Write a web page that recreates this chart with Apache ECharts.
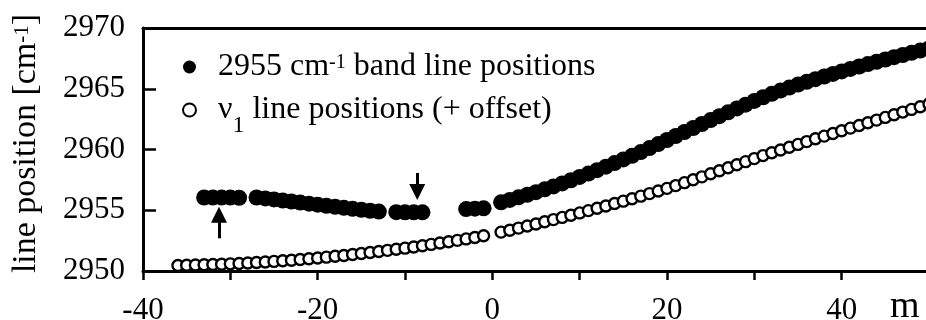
<!DOCTYPE html>
<html>
<head>
<meta charset="utf-8">
<script src="https://cdn.jsdelivr.net/npm/echarts@6/dist/echarts.min.js"></script>
<style>
  html, body { margin: 0; padding: 0; background: #fff; }
  #chart { width: 926px; height: 320px; }
</style>
</head>
<body>
<div id="chart"></div>
<script>
// Rotational index m of each line and its measured position (cm-1)
const bandM = [
  -33, -32, -31, -30, -29,
  -27, -26, -25, -24, -23, -22, -21, -20, -19, -18, -17, -16, -15, -14, -13,
  -11, -10, -9, -8,
  -3, -2, -1,
  1, 2, 3, 4, 5, 6, 7, 8, 9, 10, 11, 12, 13, 14, 15, 16, 17, 18, 19, 20,
  21, 22, 23, 24, 25, 26, 27, 28, 29, 30, 31, 32, 33, 34, 35, 36, 37, 38, 39, 40,
  41, 42, 43, 44, 45, 46, 47, 48, 49, 50
];
const bandPos = [
  2956.05, 2956.05, 2956.04, 2956.04, 2956.03,
  2956.05, 2955.97, 2955.89, 2955.80, 2955.72, 2955.63, 2955.54, 2955.46, 2955.37, 2955.29,
  2955.20, 2955.12, 2955.04, 2954.96, 2954.89,
  2954.84, 2954.83, 2954.83, 2954.83,
  2955.10, 2955.13, 2955.16,
  2955.65, 2955.85, 2956.06, 2956.27, 2956.49, 2956.72, 2956.96, 2957.21, 2957.47, 2957.74,
  2958.02, 2958.30, 2958.59, 2958.88, 2959.18, 2959.48, 2959.79, 2960.12, 2960.45, 2960.78,
  2961.11, 2961.44, 2961.77, 2962.10, 2962.42, 2962.74, 2963.06, 2963.38, 2963.69, 2964.00,
  2964.30, 2964.58, 2964.85, 2965.10, 2965.34, 2965.57, 2965.79, 2966.01, 2966.22, 2966.43,
  2966.63, 2966.83, 2967.03, 2967.22, 2967.41, 2967.60, 2967.78, 2967.96, 2968.14, 2968.32
];

const nuM = [
  -36, -35, -34, -33, -32, -31, -30, -29, -28, -27, -26, -25, -24, -23, -22, -21,
  -20, -19, -18, -17, -16, -15, -14, -13, -12, -11, -10, -9, -8, -7, -6, -5, -4, -3, -2, -1,
  1, 2, 3, 4, 5, 6, 7, 8, 9, 10, 11, 12, 13, 14, 15, 16, 17, 18, 19, 20,
  21, 22, 23, 24, 25, 26, 27, 28, 29, 30, 31, 32, 33, 34, 35, 36, 37, 38, 39, 40,
  41, 42, 43, 44, 45, 46, 47, 48, 49, 50
];
const nuPos = [
  2950.45, 2950.47, 2950.49, 2950.51, 2950.53, 2950.56, 2950.59, 2950.62, 2950.66, 2950.70,
  2950.74, 2950.79, 2950.84, 2950.89, 2950.95, 2951.01,
  2951.07, 2951.14, 2951.21, 2951.28, 2951.36, 2951.44, 2951.52, 2951.61, 2951.70, 2951.79,
  2951.88, 2951.98, 2952.08, 2952.19, 2952.30, 2952.41, 2952.52, 2952.64, 2952.76, 2952.90,
  2953.20, 2953.36, 2953.53, 2953.70, 2953.87, 2954.05, 2954.23, 2954.41, 2954.59, 2954.78,
  2954.97, 2955.16, 2955.35, 2955.55, 2955.75, 2955.95, 2956.16, 2956.37, 2956.58, 2956.80,
  2957.03, 2957.27, 2957.51, 2957.75, 2958.00, 2958.25, 2958.50, 2958.75, 2959.00, 2959.25,
  2959.50, 2959.73, 2959.96, 2960.19, 2960.42, 2960.65, 2960.88, 2961.10, 2961.32, 2961.54,
  2961.76, 2961.98, 2962.20, 2962.42, 2962.64, 2962.86, 2963.08, 2963.30, 2963.52, 2963.74
];

// Labelled ticks
const xLabelled = [-40, -20, 0, 20, 40];
const yLabelled = [2950, 2955, 2960, 2965, 2970];

// Arrows marking the perturbed lines (m, tail value, head value)
const arrowM = [-31.3, -8.6];
const arrowFrom = [2952.69, 2958.07];
const arrowTo = [2954.63, 2956.50];

const serif = '"Liberation Serif", "Times New Roman", serif';
const BAND = '2955 cm-1 band line positions';
const NU = 'ν1 line positions (+ offset)';
const legendRich = {
  [BAND]: '{gap| }2955 cm{sup|-1} band line positions',
  [NU]: '{gap| }ν{sub|1} line positions (+ offset)'
};

const pairs = (xs, ys) => xs.map((x, i) => [x, ys[i]]);

const chart = echarts.init(document.getElementById('chart'), null, { renderer: 'canvas' });

const axisLineStyle = { color: '#000', width: 3 };
// raised / lowered pieces of rich text, placed inside a 32px line box
const supStyle = { fontFamily: serif, fontSize: 20, lineHeight: 32, height: 24, verticalAlign: 'top', color: '#000' };
const subStyle = { fontFamily: serif, fontSize: 24, lineHeight: 32, height: 0, verticalAlign: 'bottom', color: '#000' };
const baseStyle = { fontFamily: serif, fontSize: 32, lineHeight: 32, color: '#000' };

chart.setOption({
  animation: false,
  backgroundColor: '#fff',
  grid: { left: 143, top: 28, width: 786, height: 243, outerBoundsMode: 'none', containLabel: false },
  xAxis: [
    {
      type: 'value', min: -40, max: 50, interval: 10,
      axisLine: { show: true, onZero: false, lineStyle: axisLineStyle },
      axisTick: { show: true, inside: false, length: 9, lineStyle: { color: '#000', width: 2.5 } },
      axisLabel: {
        margin: 24, fontFamily: serif, fontSize: 31, color: '#000',
        formatter: v => (xLabelled.indexOf(v) >= 0 ? String(v) : '')
      },
      splitLine: { show: false }
    },
    {
      type: 'value', position: 'top', min: -40, max: 50, interval: 10,
      axisLine: { show: true, onZero: false, lineStyle: axisLineStyle },
      axisTick: { show: false }, axisLabel: { show: false }, splitLine: { show: false }
    }
  ],
  yAxis: {
    type: 'value', min: 2950, max: 2970, interval: 5,
    axisLine: { show: true, onZero: false, lineStyle: axisLineStyle },
    axisTick: { show: true, inside: true, length: 13, lineStyle: { color: '#000', width: 2.5 } },
    axisLabel: {
      margin: 18, fontFamily: serif, fontSize: 31, color: '#000',
      formatter: v => (yLabelled.indexOf(v) >= 0 ? String(v) : '')
    },
    splitLine: { show: false },
    name: 'line position [cm{sup|-1}]',
    nameLocation: 'middle',
    nameGap: 100,
    nameTextStyle: Object.assign({}, baseStyle, {
      fontSize: 34, lineHeight: 34, padding: [0, 0, 0, 12],
      rich: { sup: Object.assign({}, supStyle, { fontSize: 21, lineHeight: 34, height: 26 }) }
    })
  },
  legend: {
    orient: 'vertical', left: 182, top: 51, padding: 0,
    itemWidth: 13, itemHeight: 13, itemGap: 11,
    selectedMode: false,
    data: [{ name: BAND, icon: 'circle' }, { name: NU, icon: 'circle' }],
    formatter: name => legendRich[name],
    textStyle: Object.assign({}, baseStyle, {
      rich: {
        gap: { width: 17, fontFamily: serif, fontSize: 32, lineHeight: 32 },
        sup: supStyle,
        sub: subStyle
      }
    })
  },
  graphic: [
    {
      type: 'text', left: 890, top: 288, silent: true,
      style: { text: 'm', font: '38px "Liberation Serif", serif', fill: '#000' }
    }
  ],
  series: [
    {
      name: BAND, type: 'scatter', xAxisIndex: 0, yAxisIndex: 0,
      data: pairs(bandM, bandPos),
      symbol: 'circle', symbolSize: 16,
      itemStyle: { color: '#000', opacity: 1 },
      emphasis: { disabled: true },
      silent: true,
      markLine: {
        silent: true, animation: false,
        symbol: ['none', 'triangle'], symbolSize: [16, 16],
        label: { show: false },
        emphasis: { disabled: true },
        lineStyle: { color: '#000', width: 3, type: 'solid', opacity: 1 },
        data: arrowM.map((m, i) => [{ coord: [m, arrowFrom[i]] }, { coord: [m, arrowTo[i]] }])
      }
    },
    {
      name: NU, type: 'scatter', xAxisIndex: 0, yAxisIndex: 0,
      data: pairs(nuM, nuPos),
      symbol: 'circle', symbolSize: 11,
      itemStyle: { color: '#fff', borderColor: '#000', borderWidth: 2.4, opacity: 1 },
      emphasis: { disabled: true },
      silent: true
    }
  ]
});
</script>
</body>
</html>
